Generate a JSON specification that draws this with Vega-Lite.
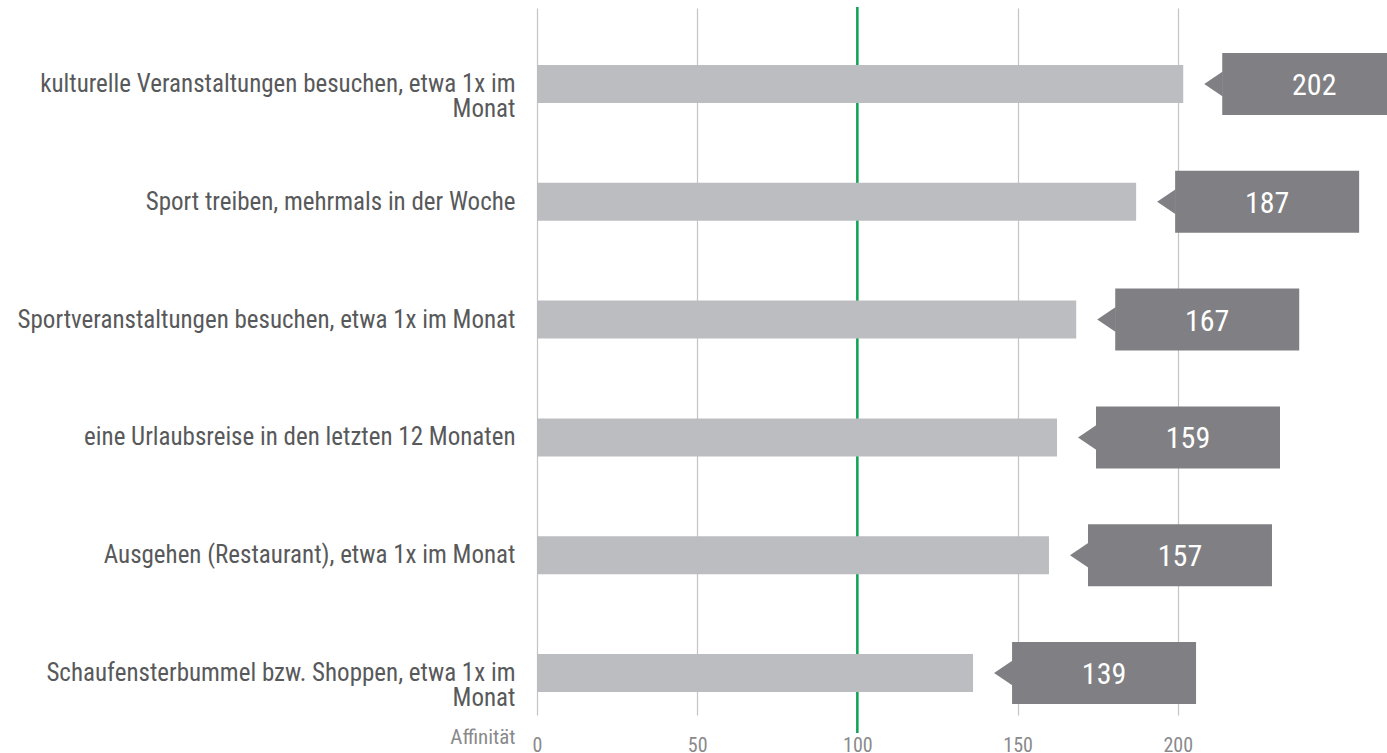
{
  "$schema": "https://vega.github.io/schema/vega-lite/v6.json",
  "width": 850,
  "height": 726,
  "autosize": {"type": "none"},
  "padding": {"left": 537, "top": 7, "right": 0, "bottom": 20},
  "background": "#ffffff",
  "config": {
    "view": {"stroke": null},
    "font": "Roboto Condensed, Roboto, sans-serif"
  },
  "data": {
    "values": [
      {"item": "kulturelle Veranstaltungen besuchen, etwa 1x im Monat", "value": 201.7, "label": "202"},
      {"item": "Sport treiben, mehrmals in der Woche", "value": 187.0, "label": "187"},
      {"item": "Sportveranstaltungen besuchen, etwa 1x im Monat", "value": 168.3, "label": "167"},
      {"item": "eine Urlaubsreise in den letzten 12 Monaten", "value": 162.3, "label": "159"},
      {"item": "Ausgehen (Restaurant), etwa 1x im Monat", "value": 159.8, "label": "157"},
      {"item": "Schaufensterbummel bzw. Shoppen, etwa 1x im Monat", "value": 136.1, "label": "139"}
    ]
  },
  "layer": [
    {
      "mark": {"type": "rule", "color": "#12a454", "strokeWidth": 1.5, "opacity": 1},
      "encoding": {
        "x": {
          "datum": 100,
          "type": "quantitative",
          "scale": {"domain": [0, 265.3], "nice": false, "zero": true},
          "axis": {
            "title": "Affinität",
            "orient": "bottom",
            "values": [0, 50, 100, 150, 200],
            "domain": false,
            "ticks": false,
            "grid": true,
            "gridColor": "#c4c4c4",
            "gridWidth": 1.2,
            "labelFlush": false,
            "labelFontSize": 20,
            "labelColor": "#8a8a8c",
            "labelBaseline": "alphabetic",
            "labelPadding": 18,
            "labelFont": "Roboto Condensed, Roboto, sans-serif",
            "titleFontSize": 21,
            "titleFontWeight": "normal",
            "titleColor": "#8a8a8c",
            "titleFont": "Roboto Condensed, Roboto, sans-serif",
            "titleAlign": "right",
            "titleBaseline": "alphabetic",
            "titleAnchor": "start",
            "titleX": -22,
            "titleY": 10
          }
        }
      }
    },
    {
      "mark": {"type": "bar", "height": 38, "color": "#bcbdc1"},
      "encoding": {
        "y": {
          "field": "item",
          "type": "nominal",
          "sort": null,
          "scale": {"range": [18, 725], "paddingInner": 0, "paddingOuter": 0},
          "axis": {
            "title": null,
            "orient": "left",
            "domain": false,
            "ticks": false,
            "grid": false,
            "labelPadding": 22,
            "labelAlign": "right",
            "labelBaseline": "middle",
            "labelFontSize": 25,
            "labelColor": "#58595b",
            "labelLineHeight": 25,
            "labelLimit": 600,
            "labelFont": "Roboto Condensed, Roboto, sans-serif",
            "labelExpr": "length(datum.value) > 48 ? [slice(datum.value, 0, lastindexof(datum.value, ' ')), slice(datum.value, lastindexof(datum.value, ' ') + 1)] : datum.value"
          }
        },
        "x": {"field": "value", "type": "quantitative"}
      }
    },
    {
      "mark": {"type": "bar", "height": 62, "color": "#808084", "xOffset": 39, "x2Offset": 223},
      "encoding": {
        "y": {"field": "item", "type": "nominal", "sort": null},
        "x": {"field": "value", "type": "quantitative"},
        "x2": {"field": "value"}
      }
    },
    {
      "mark": {"type": "point", "shape": "M-0.72,0L0.76,-1L0.76,1Z", "size": 625, "filled": true, "opacity": 1, "color": "#808084", "strokeWidth": 0, "xOffset": 30},
      "encoding": {
        "y": {"field": "item", "type": "nominal", "sort": null},
        "x": {"field": "value", "type": "quantitative"}
      }
    },
    {
      "mark": {"type": "text", "color": "#ffffff", "fontSize": 30, "align": "center", "baseline": "middle", "xOffset": 131, "dy": 2, "font": "Roboto Condensed, Roboto, sans-serif"},
      "encoding": {
        "y": {"field": "item", "type": "nominal", "sort": null},
        "x": {"field": "value", "type": "quantitative"},
        "text": {"field": "label"}
      }
    }
  ]
}
